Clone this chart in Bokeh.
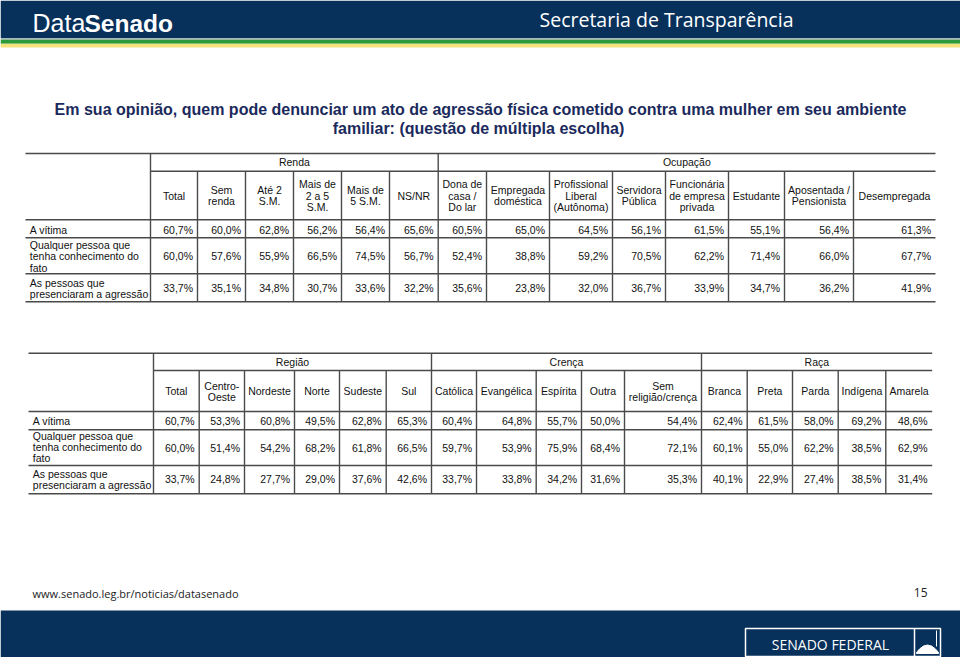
from bokeh.plotting import figure
from bokeh.models import Range1d
from bokeh.core.properties import value
from bokeh.embed import file_html
from bokeh.resources import INLINE

# ---------------- data ----------------
title_lines = ["Em sua opinião, quem pode denunciar um ato de agressão física cometido contra uma mulher em seu ambiente",
               "familiar: (questão de múltipla escolha)"]
row_labels = ["A vítima", "Qualquer pessoa que\ntenha conhecimento do\nfato", "As pessoas que\npresenciaram a agressão"]

groups1 = ["Renda", "Ocupação"]
group_spans1 = [(0, 5), (6, 13)]
cols1 = ["Total", "Sem\nrenda", "Até 2\nS.M.", "Mais de\n2 a 5\nS.M.", "Mais de\n5 S.M.", "NS/NR",
         "Dona de\ncasa /\nDo lar", "Empregada\ndoméstica", "Profissional\nLiberal\n(Autônoma)",
         "Servidora\nPública", "Funcionária\nde empresa\nprivada", "Estudante",
         "Aposentada /\nPensionista", "Desempregada"]
vitima1 = [60.7, 60.0, 62.8, 56.2, 56.4, 65.6, 60.5, 65.0, 64.5, 56.1, 61.5, 55.1, 56.4, 61.3]
conhec1 = [60.0, 57.6, 55.9, 66.5, 74.5, 56.7, 52.4, 38.8, 59.2, 70.5, 62.2, 71.4, 66.0, 67.7]
presenc1 = [33.7, 35.1, 34.8, 30.7, 33.6, 32.2, 35.6, 23.8, 32.0, 36.7, 33.9, 34.7, 36.2, 41.9]

groups2 = ["Região", "Crença", "Raça"]
group_spans2 = [(0, 5), (6, 10), (11, 15)]
cols2 = ["Total", "Centro-\nOeste", "Nordeste", "Norte", "Sudeste", "Sul", "Católica", "Evangélica",
         "Espírita", "Outra", "Sem\nreligião/crença", "Branca", "Preta", "Parda", "Indígena", "Amarela"]
vitima2 = [60.7, 53.3, 60.8, 49.5, 62.8, 65.3, 60.4, 64.8, 55.7, 50.0, 54.4, 62.4, 61.5, 58.0, 69.2, 48.6]
conhec2 = [60.0, 51.4, 54.2, 68.2, 61.8, 66.5, 59.7, 53.9, 75.9, 68.4, 72.1, 60.1, 55.0, 62.2, 38.5, 62.9]
presenc2 = [33.7, 24.8, 27.7, 29.0, 37.6, 42.6, 33.7, 33.8, 34.2, 31.6, 35.3, 40.1, 22.9, 27.4, 38.5, 31.4]

# ---------------- layout ----------------
NAVY = "#07305a"
LINE = "#4a4a4a"
FONT = "Liberation Sans"
FS = 10.5
LH = 11.3

p = figure(width=960, height=657, x_range=Range1d(0, 960), y_range=Range1d(657, 0),
           output_backend="svg", toolbar_location=None, min_border=0,
           x_axis_type=None, y_axis_type=None)
p.grid.visible = False
p.outline_line_color = None
p.background_fill_color = "white"
p.border_fill_color = "white"


def txt(xs, ys, texts, size, align="left", baseline="middle", font=FONT, style="normal", color="#111111"):
    p.text(x=xs, y=ys, text=texts, text_font=value(font), text_font_size=value(f"{size}px"),
           text_align=align, text_baseline=baseline, text_font_style=style, text_color=color)


def multiline(cx, cy, label):
    parts = label.split("\n")
    n = len(parts)
    return [cx] * n, [cy + (k - (n - 1) / 2) * LH for k in range(n)], parts


def fmt(v):
    return f"{v:.1f}%".replace(".", ",")


# header band
p.quad(left=[0], right=[960], top=[0], bottom=[37.7], fill_color=NAVY, line_color=None)
p.quad(left=[0], right=[960], top=[37.7], bottom=[39.3], fill_color="#9fb0a6", line_color=None)
p.quad(left=[0], right=[960], top=[39.3], bottom=[43.3], fill_color="#2a9a3c", line_color=None)
p.quad(left=[0], right=[960], top=[43.3], bottom=[47], fill_color="#f6e27c", line_color=None)
txt([32], [22.7], ["Data"], 25, baseline="alphabetic", color="white")
txt([84], [22.7], ["Senado"], 24.5, baseline="alphabetic", style="bold", color="white")
txt([539], [19], ["Secretaria de Transparência"], 19.5, baseline="alphabetic", font="Open Sans", color="white")

# title
txt([480, 478], [109, 128], title_lines, 16, align="center", style="bold", color="#1b2a5c")


def draw_table(L, edges, ytop, ygrp, yrows, groups, spans, cols, grp_cy, hdr_cy,
               label_x, label_cys, series, val_cys):
    right = edges[-1]
    bottom = yrows[-1]
    hx0, hy0, hx1 = [], [], []
    for yy in [ytop] + list(yrows):
        hx0.append(L); hy0.append(yy); hx1.append(right)
    p.segment(x0=hx0, y0=hy0, x1=hx1, y1=hy0, line_color=LINE, line_width=1.4)
    p.segment(x0=[edges[0]], y0=[ygrp], x1=[right], y1=[ygrp], line_color=LINE, line_width=1.4)
    starts = [s for s, e in spans]
    vx, vy0, vy1 = [], [], []
    for i, e in enumerate(edges[:-1]):
        vx.append(e)
        vy0.append(ytop if i in starts else ygrp)
        vy1.append(bottom)
    p.segment(x0=vx, y0=vy0, x1=vx, y1=vy1, line_color=LINE, line_width=1.4)
    # group names
    gx = [(edges[s] + edges[e + 1]) / 2 for s, e in spans]
    txt(gx, [grp_cy] * len(gx), groups, FS, align="center")
    # column headers
    xs, ys, ts = [], [], []
    for i, c in enumerate(cols):
        a, b, t = multiline((edges[i] + edges[i + 1]) / 2, hdr_cy, c)
        xs += a; ys += b; ts += t
    txt(xs, ys, ts, FS, align="center")
    # row labels
    xs, ys, ts = [], [], []
    for lab, cy in zip(row_labels, label_cys):
        a, b, t = multiline(label_x, cy, lab)
        xs += a; ys += b; ts += t
    txt(xs, ys, ts, FS)
    # values
    for vals, cy in zip(series, val_cys):
        txt([e - 4.5 for e in edges[1:]], [cy] * len(vals), [fmt(v) for v in vals], FS, align="right")


edges1 = [150, 197, 245, 293, 341, 389, 437.7, 486, 549, 612, 665, 728, 784, 853, 935]
draw_table(25, edges1, 153, 170.7, [219.3, 237.3, 273.3, 301.3], groups1, group_spans1, cols1,
           161.8, 195, 29.3, [229.5, 255.7, 287.8], [vitima1, conhec1, presenc1], [229.5, 255.7, 287.3])

edges2 = [153, 198.7, 244, 294, 339, 385.7, 431, 476, 535.7, 581, 624, 701, 746.7, 792, 837.7,
          885.3, 931.7]
draw_table(28, edges2, 352.7, 370, [411, 429.3, 465, 493.3], groups2, group_spans2, cols2,
           361, 390.7, 32.3, [420.5, 446.3, 479.3], [vitima2, conhec2, presenc2], [420.5, 447.3, 478.3])

# footer
txt([32], [592.5], ["www.senado.leg.br/noticias/datasenado"], 11, font="Open Sans", color="#222222")
txt([927], [592], ["15"], 12, align="right", font="Open Sans", color="#222222")
p.quad(left=[0], right=[960], top=[610], bottom=[660], fill_color=NAVY, line_color=None)
p.quad(left=[745], right=[940], top=[628], bottom=[656], fill_color=None, line_color="white", line_width=1.5)
p.segment(x0=[914], y0=[628], x1=[914], y1=[656], line_color="white", line_width=1.5)
p.segment(x0=[936], y0=[630], x1=[936], y1=[646], line_color="white", line_width=1)
p.patch(x=[916, 919, 923, 927, 931, 935, 938, 938, 916],
        y=[652, 648.5, 645.5, 644.5, 645.5, 648.5, 652, 653, 653], fill_color="white", line_color="white")
txt([830], [643.5], ["SENADO FEDERAL"], 14, align="center", font="Open Sans", color="white")

open("out.html", "w").write(file_html(p, INLINE))
